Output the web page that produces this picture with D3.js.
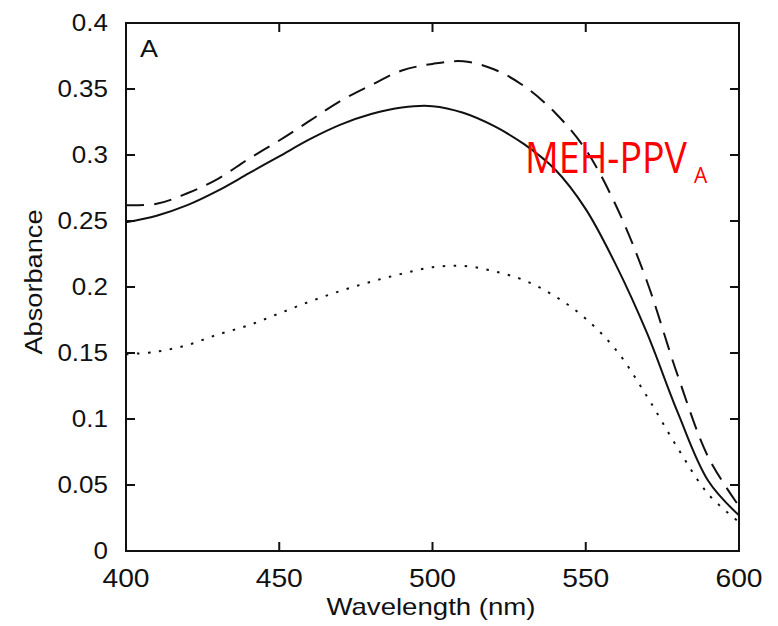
<!DOCTYPE html>
<html>
<head>
    <style>
        body { margin: 0; background: #fff; }
        text { font-family: "Liberation Sans", Arial, sans-serif; fill: #111; }
        .frame, .tick-line { stroke: #111; stroke-width: 2px; fill: none; }
        .curve { fill: none; stroke: #111; stroke-width: 2px; }
    </style>
    <script src="https://d3js.org/d3.v7.min.js"></script>
</head>
<body>
    <div id="chart"></div>

    <script>
        // wavelength grid (nm) and absorbance
        var wavelength = [400, 410, 420, 430, 440, 450, 460, 470, 480, 490, 500,
                          510, 520, 530, 540, 550, 560, 570, 580, 590, 600];
        var solidSeries = [0.249, 0.254, 0.262, 0.273, 0.286, 0.299, 0.312, 0.323, 0.331, 0.336, 0.337,
                           0.332, 0.322, 0.308, 0.289, 0.259, 0.216, 0.165, 0.105, 0.053, 0.027];
        var dashedSeries = [0.262, 0.263, 0.271, 0.282, 0.297, 0.311, 0.326, 0.341, 0.353, 0.364, 0.369,
                            0.371, 0.365, 0.352, 0.332, 0.304, 0.261, 0.204, 0.133, 0.071, 0.034];
        var dottedSeries = [0.149, 0.151, 0.156, 0.164, 0.171, 0.180, 0.189, 0.197, 0.204, 0.210, 0.215,
                            0.216, 0.212, 0.205, 0.193, 0.176, 0.152, 0.117, 0.078, 0.043, 0.022];
        var xTicks = [400, 450, 500, 550, 600];
        var yTicks = [0, 0.05, 0.1, 0.15, 0.2, 0.25, 0.3, 0.35, 0.4];

        var width = 778, height = 626;
        var plotL = 126, plotT = 23, plotR = 739, plotB = 551;

        var svg = d3.select("#chart")
                    .append("svg")
                    .attr("width", width)
                    .attr("height", height);

        var x = d3.scaleLinear().domain([400, 600]).range([plotL, plotR]);
        var y = d3.scaleLinear().domain([0, 0.4]).range([plotB, plotT]);

        svg.append("clipPath").attr("id", "clip")
            .append("rect")
            .attr("x", plotL).attr("y", plotT)
            .attr("width", plotR - plotL).attr("height", plotB - plotT);

        var line = d3.line()
            .x(function(d) { return x(d[0]); })
            .y(function(d) { return y(d[1]); })
            .curve(d3.curveCatmullRom.alpha(0.5));

        function pairs(vals) {
            return wavelength.map(function(w, i) { return [w, vals[i]]; });
        }

        var series = [
            { vals: solidSeries, dash: null, w: 2 },
            { vals: dashedSeries, dash: "18,10", w: 2.2 },
            { vals: dottedSeries, dash: "2.5,8.5", w: 2.5 }
        ];

        svg.append("g").attr("clip-path", "url(#clip)")
            .selectAll("path")
            .data(series)
            .enter()
            .append("path")
            .attr("class", "curve")
            .attr("d", function(d) { return line(pairs(d.vals)); })
            .attr("stroke-width", function(d) { return d.w; })
            .attr("stroke-dasharray", function(d) { return d.dash; });

        // ticks on all four sides, pointing inward
        var tl = 9;
        var ticks = svg.append("g");
        xTicks.forEach(function(t) {
            ticks.append("line").attr("class", "tick-line")
                .attr("x1", x(t)).attr("x2", x(t)).attr("y1", plotB).attr("y2", plotB - tl);
            ticks.append("line").attr("class", "tick-line")
                .attr("x1", x(t)).attr("x2", x(t)).attr("y1", plotT).attr("y2", plotT + tl);
        });
        yTicks.forEach(function(t) {
            ticks.append("line").attr("class", "tick-line")
                .attr("x1", plotL).attr("x2", plotL + tl).attr("y1", y(t)).attr("y2", y(t));
            ticks.append("line").attr("class", "tick-line")
                .attr("x1", plotR).attr("x2", plotR - tl).attr("y1", y(t)).attr("y2", y(t));
        });

        svg.append("rect")
            .attr("class", "frame")
            .attr("x", plotL).attr("y", plotT)
            .attr("width", plotR - plotL).attr("height", plotB - plotT);

        var stretch = 1.13;
        function widen(sel) {
            sel.each(function() {
                var w = this.getComputedTextLength();
                d3.select(this).attr("textLength", w * stretch)
                    .attr("lengthAdjust", "spacingAndGlyphs");
            });
        }

        svg.append("g").selectAll("text")
            .data(xTicks)
            .enter()
            .append("text")
            .attr("x", function(d) { return x(d); })
            .attr("y", 587)
            .attr("text-anchor", "middle")
            .attr("font-size", 25)
            .text(function(d) { return d; })
            .call(widen);

        svg.append("g").selectAll("text")
            .data(yTicks)
            .enter()
            .append("text")
            .attr("x", 108)
            .attr("y", function(d) { return y(d); })
            .attr("dy", "0.36em")
            .attr("text-anchor", "end")
            .attr("font-size", 23)
            .text(function(d) { return d; })
            .call(widen);

        svg.append("text")
            .attr("x", 431)
            .attr("y", 615)
            .attr("text-anchor", "middle")
            .attr("font-size", 24)
            .attr("textLength", 209)
            .attr("lengthAdjust", "spacingAndGlyphs")
            .text("Wavelength (nm)");

        svg.append("text")
            .attr("transform", "translate(42,282) rotate(-90)")
            .attr("text-anchor", "middle")
            .attr("font-size", 23)
            .attr("textLength", 145)
            .attr("lengthAdjust", "spacingAndGlyphs")
            .text("Absorbance");

        svg.append("text")
            .attr("x", 140)
            .attr("y", 57)
            .attr("font-size", 24)
            .attr("textLength", 18)
            .attr("lengthAdjust", "spacingAndGlyphs")
            .text("A");

        // red sample label
        svg.append("text")
            .attr("x", 525)
            .attr("y", 173)
            .attr("font-size", 43)
            .attr("textLength", 162)
            .attr("lengthAdjust", "spacingAndGlyphs")
            .style("fill", "#ff0000")
            .style("font-family", "'Open Sans', 'Noto Sans', sans-serif")
            .text("MEH-PPV");
        svg.append("text")
            .attr("x", 694)
            .attr("y", 183)
            .attr("font-size", 21)
            .style("fill", "#ff0000")
            .style("font-family", "'Open Sans', 'Noto Sans', sans-serif")
            .text("A");
    </script>
</body>
</html>
